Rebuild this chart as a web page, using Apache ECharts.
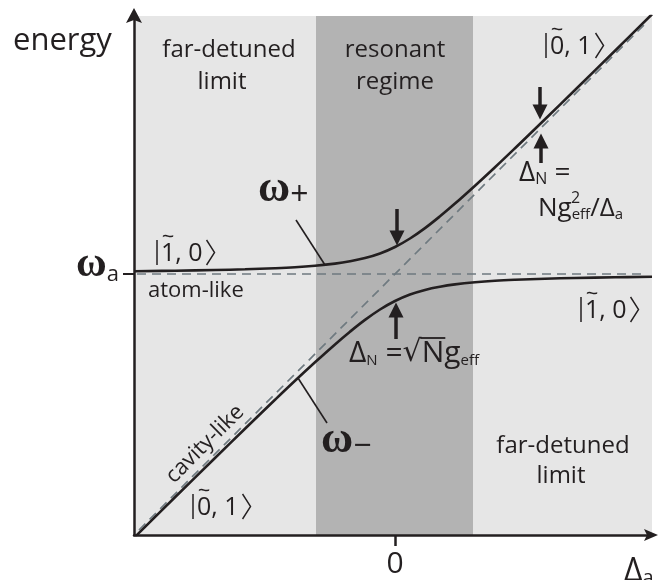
<!DOCTYPE html>
<html>
<head>
<meta charset="utf-8">
<script src="https://cdn.jsdelivr.net/npm/echarts@6/dist/echarts.min.js"></script>
<style>
  html, body { margin: 0; padding: 0; background: #ffffff; }
  #chart { width: 658px; height: 580px; }
</style>
</head>
<body>
<div id="chart"></div>
<script>
// Detuning samples (units of Δa) and the two dressed-state branches ω+ / ω−
const detuning = [-2.6, -2.2, -1.8, -1.5, -1.2, -1.0, -0.8, -0.6, -0.45, -0.3, -0.15, 0,
                  0.15, 0.3, 0.45, 0.6, 0.8, 1.0, 1.2, 1.5, 1.8, 2.2, 2.57];
const omegaPlus = [0.028, 0.033, 0.040, 0.047, 0.058, 0.068, 0.083, 0.104, 0.127, 0.159, 0.205, 0.27,
                   0.355, 0.459, 0.577, 0.704, 0.883, 1.068, 1.258, 1.547, 1.840, 2.233, 2.598];
const omegaMinus = [-2.628, -2.233, -1.840, -1.547, -1.258, -1.068, -0.883, -0.704, -0.577, -0.459, -0.355, -0.27,
                    -0.205, -0.159, -0.127, -0.104, -0.083, -0.068, -0.058, -0.047, -0.040, -0.033, -0.028];

// Bare (uncoupled) levels: cavity line and atomic line
const cavityLine = [[-2.56, -2.56], [2.5, 2.5]];
const atomLine = [[-2.58, 0], [2.5, 0]];

// Axis extents and regime boundaries
const xRange = [-2.61, 2.57];
const yRange = [-2.61, 2.58];
const resonantBand = [-0.79, 0.78];

// Gap markers [from, to] and leader lines for the branch labels
const gapArrows = [
  [[0.02, 0.65], [0.02, 0.36]],
  [[0.01, -0.65], [0.01, -0.36]],
  [[1.45, 1.87], [1.45, 1.62]],
  [[1.46, 1.11], [1.46, 1.33]]
];
const leaders = [
  [[-0.99, 0.54], [-0.70, 0.09]],
  [[-0.97, -1.04], [-0.68, -1.49]]
];

const INK = '#231f20';
const DASH = '#6f7a80';
const SANS = '"Open Sans", "DejaVu Sans", sans-serif';
const SERIF = '"Liberation Serif", "DejaVu Serif", serif';
const MATH = '"DejaVu Sans", sans-serif';

const zip = (xs, ys) => xs.map((x, i) => [x, ys[i]]);

const measureCtx = document.createElement('canvas').getContext('2d');
function measure(text, size, family, weight) {
  measureCtx.font = (weight || 'normal') + ' ' + size + 'px ' + family;
  return measureCtx.measureText(text).width;
}

const chart = echarts.init(document.getElementById('chart'), null, { renderer: 'canvas' });

function txt(text, x, y, size, opts) {
  opts = opts || {};
  return {
    type: 'text', x: x, y: y, z: 50,
    rotation: opts.rotation || 0,
    style: {
      text: text,
      font: (opts.weight || 'normal') + ' ' + size + 'px ' + (opts.family || SANS),
      fill: INK,
      align: opts.align || 'center',
      verticalAlign: 'middle'
    }
  };
}

function rich(text, x, y, richStyles, align) {
  return {
    type: 'text', x: x, y: y, z: 50,
    style: { text: text, fill: INK, align: align || 'left', verticalAlign: 'bottom', rich: richStyles }
  };
}

const tok = (size, family, weight) => ({
  fontSize: size, fontFamily: family || SANS, fontWeight: weight || 'normal',
  lineHeight: size, verticalAlign: 'bottom', fill: INK
});

// Ket |n~, m> : thin bar, digit with tilde, comma, digit, tall angle bracket
function ket(left, base, first, second) {
  const size = 25;
  const body = first + ', ' + second;
  const bodyW = measure(body, size, SANS);
  const digitW = measure(first, size, SANS);
  const tx = left + 4;
  const bx = tx + bodyW + 4;
  const top = base - 21, bottom = base + 4;
  return [
    { type: 'line', z: 50, shape: { x1: left, y1: top, x2: left, y2: bottom }, style: { stroke: INK, lineWidth: 1.5 } },
    txt(body, tx, base - 7, size, { align: 'left' }),
    txt('~', tx + digitW / 2, base - 23, 22),
    { type: 'polyline', z: 50, shape: { points: [[bx, top], [bx + 8, (top + bottom) / 2], [bx, bottom]] },
      style: { stroke: INK, lineWidth: 1.4, fill: null } }
  ];
}

const option = {
  animation: false,
  backgroundColor: '#ffffff',
  grid: { left: 134, top: 16, width: 518, height: 519, containLabel: false, outerBoundsMode: 'none' },
  xAxis: {
    type: 'value', min: xRange[0], max: xRange[1], z: 10,
    splitLine: { show: false },
    axisLine: { onZero: false, lineStyle: { color: INK, width: 2.5 } },
    axisTick: { show: true, customValues: [0], length: 11, lineStyle: { color: INK, width: 2.5 } },
    axisLabel: { show: true, customValues: [0], margin: 14, fontSize: 30, fontFamily: SANS, color: INK,
                 formatter: () => '0' }
  },
  yAxis: {
    type: 'value', min: yRange[0], max: yRange[1], z: 10,
    splitLine: { show: false },
    axisLine: { onZero: false, lineStyle: { color: INK, width: 2.5 } },
    axisTick: { show: true, customValues: [0], length: 11, lineStyle: { color: INK, width: 2 } },
    axisLabel: { show: false }
  },
  series: [
    {
      // shaded regimes
      name: 'regimes', type: 'line', z: 0, data: [], silent: true,
      markArea: {
        silent: true,
        data: [
          [{ coord: [xRange[0], yRange[0]], itemStyle: { color: '#e6e6e6' } }, { coord: [xRange[1], yRange[1]] }],
          [{ coord: [resonantBand[0], yRange[0]], itemStyle: { color: '#b3b3b3' } }, { coord: [resonantBand[1], yRange[1]] }]
        ]
      }
    },
    {
      name: 'cavity', type: 'line', z: 2, data: cavityLine, symbol: 'none', silent: true,
      lineStyle: { color: DASH, width: 1.7, type: [9, 6] }
    },
    {
      name: 'atom', type: 'line', z: 2, data: atomLine, symbol: 'none', silent: true,
      lineStyle: { color: DASH, width: 1.7, type: [9, 6] }
    },
    {
      name: 'ω+', type: 'line', z: 3, data: zip(detuning, omegaPlus), symbol: 'none', smooth: 0.4, silent: true,
      lineStyle: { color: INK, width: 2.6 }
    },
    {
      name: 'ω−', type: 'line', z: 3, data: zip(detuning, omegaMinus), symbol: 'none', smooth: 0.4, silent: true,
      lineStyle: { color: INK, width: 2.6 }
    },
    {
      name: 'annotations', type: 'line', z: 4, data: [], silent: true,
      markLine: {
        silent: true, animation: false,
        label: { show: false },
        data: gapArrows.map(a => [
          { coord: a[0], symbol: 'none', lineStyle: { color: INK, width: 3.5, type: 'solid' } },
          { coord: a[1], symbol: 'triangle', symbolSize: [15, 15] }
        ]).concat(leaders.map(l => [
          { coord: l[0], symbol: 'none', lineStyle: { color: INK, width: 1.6, type: 'solid' } },
          { coord: l[1], symbol: 'none' }
        ]))
      }
    }
  ]
};

chart.setOption(option);

// Axis arrowheads at the far ends of both axes
const corner = chart.convertToPixel({ gridIndex: 0 }, [xRange[0], yRange[0]]);
const farEnd = chart.convertToPixel({ gridIndex: 0 }, [xRange[1], yRange[1]]);
const xTip = farEnd[0] + 6, yTip = farEnd[1] - 8;
const arrowHeads = [
  { type: 'polygon', z: 60, shape: { points: [[xTip, corner[1]], [xTip - 14, corner[1] - 6], [xTip - 11, corner[1]], [xTip - 14, corner[1] + 6]] }, style: { fill: INK } },
  { type: 'polygon', z: 60, shape: { points: [[corner[0], yTip], [corner[0] - 8, yTip + 15], [corner[0], yTip + 12], [corner[0] + 8, yTip + 15]] }, style: { fill: INK } }
];

// Lower splitting formula with radical and its overbar
const fx = 349, fBase = 368;
const wPre = measure('Δ', 30, SANS) + measure('N', 15, SANS) + measure(' =', 30, SANS);
const wRad = measure('√', 30, MATH);
const wN = measure('N', 30, SANS);
const radicalBar = {
  type: 'line', z: 60,
  shape: { x1: fx + wPre + wRad - 1.5, y1: fBase - 30, x2: fx + wPre + wRad + wN + 1, y2: fBase - 30 },
  style: { stroke: INK, lineWidth: 1.8 }
};

// Upper-right formula, with the exponent set above "eff"
const ux = 538;
const wNg = measure('Ng', 26, SANS);

chart.setOption({
  graphic: [
    txt('energy', 13, 41, 31, { align: 'left' }),
    txt('far-detuned', 229, 50, 24),
    txt('limit', 222, 82, 24),
    txt('resonant', 395, 50, 24),
    txt('regime', 395, 82, 24),
    txt('far-detuned', 563, 446, 24),
    txt('limit', 561, 476, 24),
    txt('atom-like', 148, 291, 22, { align: 'left' }),
    txt('cavity-like', 205, 444, 22, { rotation: Math.PI / 4 }),
    ...ket(546, 54, '0', '1'),
    ...ket(157, 261, '1', '0'),
    ...ket(581, 318, '1', '0'),
    ...ket(193, 515, '0', '1'),
    // branch and level symbols
    rich('{w|ω}{p|+}', 258, 212, { w: tok(44, SERIF, 'bold'), p: tok(32) }),
    rich('{w|ω}{p|−}', 321, 463, { w: tok(44, SERIF, 'bold'), p: tok(32) }),
    rich('{w|ω}{s|a}', 76, 286, { w: tok(42, SERIF, 'bold'), s: tok(22) }),
    // splitting formulas
    rich('{b|Δ}{s|N}{b| =}{r|√}{b|Ng}{s|eff}', fx, fBase, { b: tok(30), s: tok(15), r: tok(30, MATH) }),
    radicalBar,
    rich('{b|Δ}{s|N}{b| =}', 519, 187, { b: tok(28), s: tok(16) }),
    rich('{b|Ng}{s|eff}{b|/Δ}{s|a}', ux, 222, { b: tok(26), s: tok(15) }),
    txt('2', ux + wNg + 4, 198, 16),
    // detuning axis name
    rich('{b|Δ}{s|a}', 624, 588, { b: tok(32), s: tok(20) }),
    ...arrowHeads
  ]
});
</script>
</body>
</html>
